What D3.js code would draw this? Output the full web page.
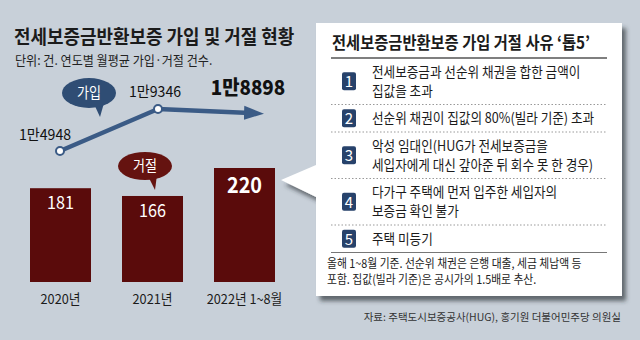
<!DOCTYPE html>
<html>
<head>
<meta charset="utf-8">
<script src="https://cdn.jsdelivr.net/npm/d3@7"></script>
<style>
  html, body { margin: 0; padding: 0; background: #c8d0d9; }
  svg { display: block; font-family: "Noto Sans CJK KR", "Noto Sans", sans-serif; }
</style>
</head>
<body>
<svg id="chart" width="640" height="340"></svg>
<script>
// 데이터
const years = ["2020년", "2021년", "2022년 1~8월"];
const joinCounts = [14948, 19346, 18898];
const joinLabels = ["1만4948", "1만9346", "1만8898"];
const rejectCounts = [181, 166, 220];

const title = "전세보증금반환보증 가입 및 거절 현황";
const subtitle = "단위: 건. 연도별 월평균 가입·거절 건수.";
const boxTitle = "전세보증금반환보증 가입 거절 사유 ‘톱5’";
const reasons = [
  ["전세보증금과 선순위 채권을 합한 금액이", "집값을 초과"],
  ["선순위 채권이 집값의 80%(빌라 기준) 초과"],
  ["악성 임대인(HUG가 전세보증금을", "세입자에게 대신 갚아준 뒤 회수 못 한 경우)"],
  ["다가구 주택에 먼저 입주한 세입자의", "보증금 확인 불가"],
  ["주택 미등기"]
];
const notes = [
  "올해 1~8월 기준. 선순위 채권은 은행 대출, 세금 체납액 등",
  "포함. 집값(빌라 기준)은 공시가의 1.5배로 추산."
];
const source = "자료: 주택도시보증공사(HUG), 홍기원 더불어민주당 의원실";

const svg = d3.select("#chart");

// 좁은 글꼴 흉내: 가로로 살짝 압축
function squeeze(sel, k) {
  sel.each(function() {
    const w = this.getComputedTextLength();
    d3.select(this).attr("textLength", w * k).attr("lengthAdjust", "spacingAndGlyphs");
  });
}

const box = { x: 316, y: 23, w: 306, h: 273 };

const defs = svg.append("defs");
defs.append("filter").attr("id", "shadow")
  .attr("filterUnits", "userSpaceOnUse")
  .attr("x", 270).attr("y", 15).attr("width", 365).attr("height", 291)
  .append("feDropShadow")
  .attr("dx", 4).attr("dy", 5).attr("stdDeviation", 2)
  .attr("flood-color", "#2b2f35").attr("flood-opacity", 0.65);
defs.append("marker").attr("id", "arrow")
  .attr("markerUnits", "userSpaceOnUse")
  .attr("viewBox", "0 -8 20 16")
  .attr("markerWidth", 20).attr("markerHeight", 16)
  .attr("refX", 12).attr("refY", 0)
  .attr("orient", "auto")
  .append("path").attr("d", "M0,-7L20,0L0,7Z").attr("fill", "#3b5b86");

// 제목
svg.append("text").attr("x", 14).attr("y", 44)
  .attr("font-size", 19.5).attr("font-weight", 700).attr("fill", "#1b1b1b")
  .text(title).call(squeeze, 0.92);
svg.append("text").attr("x", 15).attr("y", 65)
  .attr("font-size", 13).attr("fill", "#222")
  .text(subtitle).call(squeeze, 0.93);

// 막대 (거절)
const x = d3.scaleBand().domain(years).range([30, 275]).paddingInner(0.337).paddingOuter(0);
const yBar = d3.scaleLinear().domain([0, d3.max(rejectCounts)]).range([282, 168]);

svg.append("g").selectAll("rect")
  .data(rejectCounts)
  .join("rect")
  .attr("x", (d, i) => x(years[i]))
  .attr("y", d => yBar(d))
  .attr("width", x.bandwidth())
  .attr("height", d => yBar(0) - yBar(d))
  .attr("fill", "#5a0b0b");

svg.append("g").selectAll("text")
  .data(rejectCounts)
  .join("text")
  .attr("x", (d, i) => x(years[i]) + x.bandwidth() / 2)
  .attr("y", (d, i) => yBar(d) + (i === 2 ? 25 : 21))
  .attr("text-anchor", "middle")
  .attr("fill", "#fff")
  .attr("font-size", (d, i) => i === 2 ? 22 : 18)
  .attr("font-weight", (d, i) => i === 2 ? 700 : 400)
  .text(d => d)
  .call(squeeze, 0.9);

// x축 라벨
const xAxis = g => g
  .attr("transform", `translate(0,${yBar(0)})`)
  .call(d3.axisBottom(x).tickSize(0).tickPadding(12))
  .call(g => g.select(".domain").remove())
  .call(g => g.selectAll("text")
    .attr("font-size", 13.5).attr("fill", "#1b1b1b")
    .attr("font-family", "Noto Sans CJK KR"));
svg.append("g").call(xAxis);
svg.selectAll(".tick text").call(squeeze, 0.94);

// 선 (가입)
const xLine = d3.scalePoint().domain(years).range([60, 256]);
const yLine = d3.scaleLinear().domain([d3.min(joinCounts), d3.max(joinCounts)]).range([151, 109]);

const line = d3.line()
  .x((d, i) => xLine(years[i]))
  .y(d => yLine(d));

svg.append("path")
  .datum(joinCounts)
  .attr("fill", "none")
  .attr("stroke", "#3b5b86")
  .attr("stroke-width", 4.5)
  .attr("stroke-linejoin", "round")
  .attr("marker-end", "url(#arrow)")
  .attr("d", line);

svg.append("g").selectAll("circle")
  .data(joinCounts.slice(0, 2))
  .join("circle")
  .attr("cx", (d, i) => xLine(years[i]))
  .attr("cy", d => yLine(d))
  .attr("r", 4)
  .attr("fill", "#fff")
  .attr("stroke", "#3b5b86")
  .attr("stroke-width", 2);

const labelPos = [
  { dx: -15, dy: -11, size: 15, weight: 400 },
  { dx: -3, dy: -12, size: 15, weight: 400 },
  { dx: -8, dy: -18, size: 20, weight: 800 }
];
svg.append("g").selectAll("text")
  .data(joinLabels)
  .join("text")
  .attr("x", (d, i) => xLine(years[i]) + labelPos[i].dx)
  .attr("y", (d, i) => yLine(joinCounts[i]) + labelPos[i].dy)
  .attr("text-anchor", "middle")
  .attr("font-size", (d, i) => labelPos[i].size)
  .attr("font-weight", (d, i) => labelPos[i].weight)
  .attr("fill", "#111")
  .text(d => d)
  .call(squeeze, 0.94);

// 말풍선
function bubble(cx, cy, rx, ry, tail, color, label) {
  const g = svg.append("g");
  g.append("path").attr("d", d3.line()(tail) + "Z").attr("fill", color);
  g.append("ellipse").attr("cx", cx).attr("cy", cy).attr("rx", rx).attr("ry", ry).attr("fill", color);
  g.append("text").attr("x", cx).attr("y", cy + 5).attr("text-anchor", "middle")
    .attr("font-size", 14.5).attr("fill", "#fff").text(label).call(squeeze, 0.9);
}
bubble(89, 93, 27, 15, [[94, 104], [104, 103], [100, 117]], "#2f4d74", "가입");
bubble(145, 166, 27, 14, [[148, 176], [157, 175], [155, 190]], "#651310", "거절");

// 오른쪽 상자
svg.append("path")
  .attr("d", `M${box.x},${box.y}H${box.x + box.w}V${box.y + box.h}H${box.x}V197L281,180L${box.x},165Z`)
  .attr("fill", "#fff")
  .attr("filter", "url(#shadow)");

svg.append("text").attr("x", 332).attr("y", 49)
  .attr("font-size", 17).attr("font-weight", 700).attr("fill", "#1b1b1b")
  .text(boxTitle).call(squeeze, 0.9);
svg.append("line").attr("x1", 331).attr("x2", 607).attr("y1", 58).attr("y2", 58)
  .attr("stroke", "#555").attr("stroke-width", 1.5);

const lineH = 19, pad = 8.5;
let rowY = 58;
reasons.forEach((lines, i) => {
  const h = lines.length * lineH + pad;
  const g = svg.append("g");
  g.append("rect")
    .attr("x", 342).attr("y", rowY + h / 2 - 9)
    .attr("width", 14).attr("height", 18).attr("rx", 2)
    .attr("fill", "#27426b");
  g.append("text")
    .attr("x", 349).attr("y", rowY + h / 2 + 6)
    .attr("text-anchor", "middle").attr("fill", "#fff")
    .attr("font-size", 15).text(i + 1);
  lines.forEach((t, j) => {
    g.append("text")
      .attr("x", 372).attr("y", rowY + pad / 2 + lineH * j + 14.5)
      .attr("font-size", 14).attr("fill", "#1b1b1b")
      .text(t).call(squeeze, 0.9);
  });
  rowY += h;
  g.append("line").attr("x1", 331).attr("x2", 607).attr("y1", rowY).attr("y2", rowY)
    .attr("stroke", i === reasons.length - 1 ? "#777" : "#999")
    .attr("stroke-width", 1)
    .attr("stroke-dasharray", i === reasons.length - 1 ? null : "1.5,2");
});

notes.forEach((t, j) => {
  svg.append("text").attr("x", 327).attr("y", rowY + 15 + j * 16.5)
    .attr("font-size", 12).attr("fill", "#222")
    .text(t).call(squeeze, 0.9);
});

// 출처
svg.append("text").attr("x", 621).attr("y", 321)
  .attr("text-anchor", "end")
  .attr("font-size", 10.5).attr("fill", "#333")
  .text(source);
</script>
</body>
</html>
